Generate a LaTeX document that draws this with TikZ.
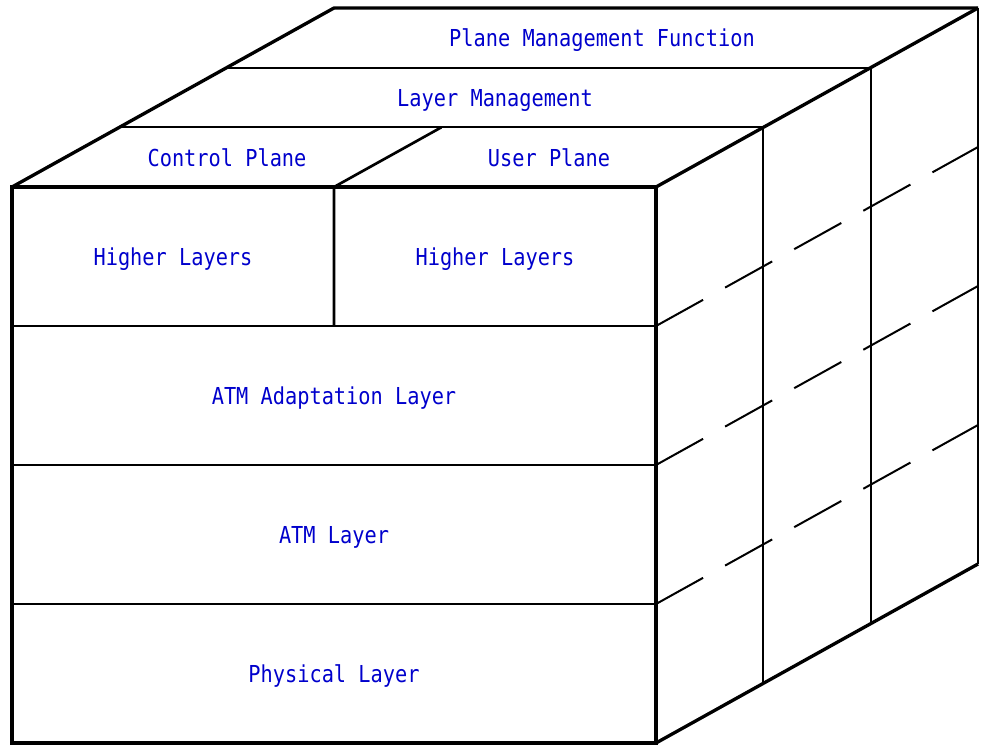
\documentclass[tikz,border=0pt]{standalone}
\usepackage{fontspec}
\newfontfamily\labelfont[FakeStretch=0.87]{DejaVu Sans Mono}
\usetikzlibrary{calc}
\definecolor{cubeText}{RGB}{0,0,204}
\definecolor{cubeEdge}{HTML}{000000}

\begin{document}
\begin{tikzpicture}[
  x=0.75pt, y=-0.75pt,
  edgeThick/.style={draw=cubeEdge, line width=2.5pt, line join=miter},
  edgeMid/.style={draw=cubeEdge, line width=2pt},
  edgeThin/.style={draw=cubeEdge, line width=1.5pt},
  edgeDash/.style={draw=cubeEdge, line width=1.5pt, dash pattern=on 40.4pt off 18.9pt},
  cell/.style={
    text=cubeText,
    font=\labelfont\fontsize{17.5pt}{20pt}\selectfont,
    inner sep=0pt,
    text height=12.75pt,
    text depth=0pt
  }
]
  \useasboundingbox (0,0) rectangle (982,746);

  % corners of the cube
  \coordinate (FTL) at (12,187);
  \coordinate (FTR) at (656,187);
  \coordinate (FBR) at (656,743);
  \coordinate (FBL) at (12,743);
  \coordinate (BTL) at (334,8);
  \coordinate (BTR) at (978,8);
  \coordinate (BBR) at (978,564);

  % layer boundaries on the front, continued dashed on the side
  \foreach \y in {326,465,604} {
    \draw[edgeThin] (12,\y) -- (656,\y);
    \draw[edgeDash] (656,\y) -- ++(322,-179);
  }

  % control / user plane split
  \coordinate (SplitF) at (334,187);
  \coordinate (SplitB) at ($(FTL)!1/3!(BTL) + (322,0)$);
  \draw[edgeMid] (334,326) -- (SplitF) -- (SplitB);

  % management slices through the depth
  \foreach \i in {1,2} {
    \draw[edgeThin] ($(FTL)!\i/3!(BTL)$) -- ($(FTR)!\i/3!(BTR)$) -- ($(FBR)!\i/3!(BBR)$);
  }

  % outline
  \draw[edgeThin] (BTR) -- (BBR);
  \draw[edgeThick] (FBL) rectangle (FTR);
  \draw[edgeThick] (FTL) -- (BTL) -- (BTR);
  \draw[edgeThick] (FTR) -- (BTR);
  \draw[edgeThick] (FBR) -- (BBR);

  % labels
  \node[cell] (PMF) at (602,38) {Plane Management Function};
  \node[cell] (LM) at (495,98) {Layer Management};
  \node[cell] (CP) at (227,157.5) {Control Plane};
  \node[cell] (UP) at (549,157.5) {User Plane};
  \node[cell] (HLc) at (173,256.5) {Higher Layers};
  \node[cell] (HLu) at (495,256.5) {Higher Layers};
  \node[cell] (AAL) at (334,395.5) {ATM Adaptation Layer};
  \node[cell] (ATM) at (334,534.5) {ATM Layer};
  \node[cell] (PHY) at (334,673.5) {Physical Layer};

\end{tikzpicture}
\end{document}
